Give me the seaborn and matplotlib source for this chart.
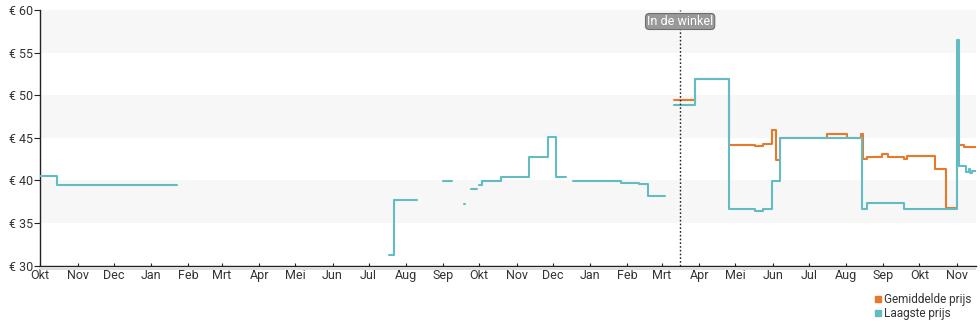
import numpy as np
import pandas as pd
import matplotlib
matplotlib.use("Agg")
import matplotlib.pyplot as plt
import matplotlib.dates as mdates
from matplotlib.ticker import FuncFormatter
from matplotlib.lines import Line2D
from matplotlib.patches import Rectangle
import seaborn as sns

# ---- data (None = break in the line) ----
low_dates = ["2022-10-01", "2022-10-15", "2023-01-23", None,
             "2023-07-18", "2023-07-22", "2023-08-10", None,
             "2023-09-01", "2023-09-08", None,
             "2023-09-18", "2023-09-19", None,
             "2023-09-24", "2023-09-29", None,
             "2023-10-01", "2023-10-03", "2023-10-19", "2023-11-11", "2023-11-27", "2023-12-04", "2023-12-12", None,
             "2023-12-18", "2024-01-27", "2024-02-11", "2024-02-18", "2024-03-03", None,
             "2024-03-11", "2024-03-28", "2024-04-26", "2024-05-17", "2024-05-24", "2024-05-31", "2024-06-07",
             "2024-08-14", "2024-08-18", "2024-09-18", "2024-11-01", "2024-11-03", "2024-11-09", "2024-11-11",
             "2024-11-12", "2024-11-14", "2024-11-17"]
low_vals = [40.5, 39.45, 39.45, None,
            31.2, 37.65, 37.65, None,
            39.9, 39.9, None,
            37.2, 37.2, None,
            38.95, 38.95, None,
            39.5, 39.9, 40.4, 42.7, 45.1, 40.4, 40.4, None,
            39.9, 39.75, 39.55, 38.2, 38.2, None,
            48.9, 51.9, 36.6, 36.36, 36.6, 39.9, 45.0,
            36.6, 37.4, 36.7, 56.5, 41.7, 41.0, 41.3,
            40.9, 41.1, 41.1]

avg_dates = ["2024-03-11", "2024-03-28", "2024-04-26", "2024-05-17", "2024-05-24", "2024-05-31", "2024-06-04",
             "2024-06-07", "2024-07-16", "2024-08-02", "2024-08-13", "2024-08-15", "2024-08-18", "2024-08-31",
             "2024-09-05", "2024-09-18", "2024-09-21", "2024-10-14", "2024-10-23", "2024-11-01", "2024-11-03",
             "2024-11-07", "2024-11-17"]
avg_vals = [49.47, 51.9, 44.2, 44.0, 44.3, 45.95, 42.4,
            45.0, 45.5, 45.0, 45.5, 42.5, 42.7, 43.05,
            42.8, 42.55, 42.9, 41.3, 36.8, 44.5, 44.2,
            43.9, 43.9]

series_names = ["Gemiddelde prijs", "Laagste prijs"]
series_colors = ["#e8792b", "#62bdc2"]
month_labels = ["Jan", "Feb", "Mrt", "Apr", "Mei", "Jun", "Jul", "Aug", "Sep", "Okt", "Nov", "Dec"]
y_ticks = [30, 35, 40, 45, 50, 55, 60]
store_date = "2024-03-16"
store_label = "In de winkel"


def build(dates, vals, name):
    rows = []
    seg = 0
    for d, v in zip(dates, vals):
        if d is None:
            seg += 1
            continue
        rows.append({"date": pd.Timestamp(d), "price": v, "seg": f"{name}-{seg}", "series": name})
    return pd.DataFrame(rows)


df = pd.concat([build(avg_dates, avg_vals, series_names[0]),
                build(low_dates, low_vals, series_names[1])], ignore_index=True)

sns.set_theme(style="white")
plt.rcParams["font.family"] = ["Roboto", "DejaVu Sans"]

fig = plt.figure(figsize=(9.8, 3.25), dpi=100)
ax = fig.add_axes([40.3 / 980, 1 - 265.7 / 325, (976 - 40.3) / 980, (265.7 - 10) / 325])

# alternating bands
for lo in (35, 45, 55):
    ax.axhspan(lo, lo + 5, color="#f7f7f7", zorder=0, lw=0)

for name, col in zip(series_names, series_colors):
    sub = df[df["series"] == name]
    sns.lineplot(data=sub, x="date", y="price", units="seg", estimator=None,
                 color=col, lw=1.5, drawstyle="steps-post", ax=ax, legend=False, zorder=3)

# store line
sd = pd.Timestamp(store_date)
ax.axvline(sd, color="#222222", lw=1.0, ls=(0, (1.2, 1.5)), zorder=4)
ax.text(sd, 58.65, store_label, ha="center", va="center", fontsize=9, color="white", zorder=5,
        bbox=dict(boxstyle="round,pad=0.12,rounding_size=0.3", fc="#999999", ec="#6e6e6e", lw=0.8))

# thin light strip under the x axis
fig.patches.append(Rectangle((40.3 / 980, 1 - 269.5 / 325), (976 - 40.3) / 980, 3 / 325,
                             transform=fig.transFigure, fc="#dddddd", ec="none", zorder=0))

ax.set_xlim(pd.Timestamp("2022-10-01"), pd.Timestamp("2024-11-17"))
ax.set_ylim(30, 60)
ax.set_yticks(y_ticks)
ax.yaxis.set_major_formatter(FuncFormatter(lambda v, p: f"€ {int(v)}"))
ax.xaxis.set_major_locator(mdates.MonthLocator())
ax.xaxis.set_major_formatter(FuncFormatter(lambda v, p: month_labels[mdates.num2date(v).month - 1]))

ax.set_xlabel("")
ax.set_ylabel("")
for s in ("top", "right"):
    ax.spines[s].set_visible(False)
for s in ("left", "bottom"):
    ax.spines[s].set_color("#222222")
    ax.spines[s].set_linewidth(1.0)
ax.tick_params(axis="y", which="major", direction="out", length=4, width=0.8, color="#222222",
               labelsize=9, labelcolor="#333333", pad=1, left=True)
ax.tick_params(axis="x", which="major", direction="inout", length=5, width=0.8, color="#222222",
               labelsize=9, labelcolor="#333333", pad=0, bottom=True)

handles = [Line2D([0], [0], marker="s", ls="", color=c, markersize=5) for c in series_colors]
fig.legend(handles, series_names, loc="lower right", bbox_to_anchor=(1.0, -0.01), frameon=False,
           fontsize=8.5, handletextpad=0.0, labelspacing=0.05, handlelength=1.0, borderpad=0.2,
           labelcolor="#333333")

fig.savefig("out.png", dpi=100)
